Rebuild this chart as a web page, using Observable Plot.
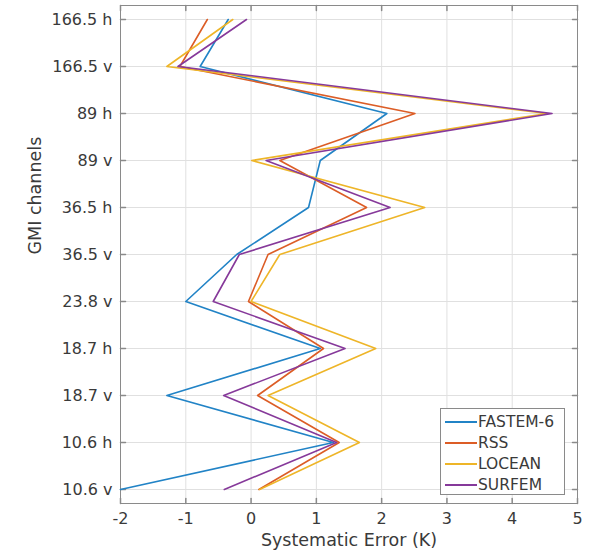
<!DOCTYPE html>
<html>
<head>
<meta charset="utf-8">
<script src="https://cdn.jsdelivr.net/npm/d3@7"></script>
<script src="https://cdn.jsdelivr.net/npm/@observablehq/plot@0.6"></script>
<style>
  html, body { margin: 0; padding: 0; background: #fff; }
  #wrap { position: relative; width: 592px; height: 558px; font-family: "DejaVu Sans", sans-serif; }
  #legend { position: absolute; left: 440px; top: 408px; width: 125px; height: 87px; border: 1px solid #8a8a8a; background: #fff; box-sizing: border-box; padding: 2px 0 0 4px; }
  .item { display: flex; align-items: center; height: 21px; font-size: 15.5px; color: #3a3a3a; }
  .sw { width: 32px; height: 0; border-top: 2px solid; margin-right: 1px; }
</style>
</head>
<body>
<div id="wrap"></div>
<script>
// Channels, bottom to top
const channels = ["10.6 v", "10.6 h", "18.7 v", "18.7 h", "23.8 v", "36.5 v", "36.5 h", "89 v", "89 h", "166.5 v", "166.5 h"];
const seriesNames = ["FASTEM-6", "RSS", "LOCEAN", "SURFEM"];
const seriesColors = ["#2183c6", "#dc5d26", "#eeb528", "#86399a"];
// Systematic error (K) per channel, same order as channels
const fastem6 = [-2.0, 1.26, -1.29, 1.06, -1.0, -0.22, 0.88, 1.06, 2.08, -0.78, -0.35];
const rss     = [0.12, 1.35, 0.10, 1.11, -0.04, 0.26, 1.77, 0.44, 2.51, -1.09, -0.67];
const locean  = [0.13, 1.66, 0.26, 1.91, 0.0, 0.44, 2.66, 0.01, 4.53, -1.29, -0.28];
const surfem  = [-0.41, 1.31, -0.42, 1.44, -0.58, -0.18, 2.13, 0.23, 4.61, -1.12, -0.07];
const xTicks = [-2, -1, 0, 1, 2, 3, 4, 5];

const allSeries = [fastem6, rss, locean, surfem];
const rows = [];
allSeries.forEach((vals, s) => vals.forEach((v, i) => rows.push({series: seriesNames[s], channel: channels[i], value: v})));

const tickShape = { draw(ctx, l) { ctx.moveTo(0, 0); ctx.lineTo(0, -l); } };
const textColor = "#3a3a3a";

const chart = Plot.plot({
  width: 592,
  height: 558,
  marginLeft: 120,
  marginRight: 15,
  marginTop: 5,
  marginBottom: 55,
  style: { fontFamily: "DejaVu Sans, sans-serif", color: textColor, background: "#fff" },
  x: { domain: [-2, 5] },
  y: { type: "point", domain: channels.slice().reverse(), padding: 0.27 },
  color: { domain: seriesNames, range: seriesColors },
  marks: [
    Plot.gridX(xTicks, { stroke: "#e0e0e0", strokeOpacity: 1 }),
    Plot.gridY(channels, { stroke: "#e0e0e0", strokeOpacity: 1 }),
    Plot.frame({ stroke: "#8a8a8a" }),
    // inward ticks
    Plot.vector(channels, { y: d => d, frameAnchor: "left", length: 5, rotate: 90, anchor: "start", shape: tickShape, stroke: "#8a8a8a" }),
    Plot.vector(channels, { y: d => d, frameAnchor: "right", length: 5, rotate: -90, anchor: "start", shape: tickShape, stroke: "#8a8a8a" }),
    Plot.vector(xTicks, { x: d => d, frameAnchor: "bottom", length: 5, rotate: 0, anchor: "start", shape: tickShape, stroke: "#8a8a8a" }),
    Plot.vector(xTicks, { x: d => d, frameAnchor: "top", length: 5, rotate: 180, anchor: "start", shape: tickShape, stroke: "#8a8a8a" }),
    Plot.ruleX([0], { y1: channels[channels.length - 1], y2: channels[0], stroke: "#404040", strokeWidth: 2.5 }),
    Plot.line(rows, { x: "value", y: "channel", z: "series", stroke: "series", strokeWidth: 1.6 }),
    Plot.axisX(xTicks, { tickSize: 0, tickPadding: 9, fontSize: 16, label: null, tickFormat: d => String(d) }),
    Plot.axisY(channels, { tickSize: 0, tickPadding: 8, fontSize: 16, label: null }),
    Plot.text(["Systematic Error (K)"], { frameAnchor: "bottom", dy: 42, fontSize: 17.5, fill: textColor }),
    Plot.text(["GMI channels"], { frameAnchor: "left", dx: -85, rotate: -90, fontSize: 17.5, fill: textColor })
  ]
});

const wrap = document.getElementById("wrap");
wrap.appendChild(chart);
const legend = document.createElement("div");
legend.id = "legend";
seriesNames.forEach((name, i) => {
  const item = document.createElement("div");
  item.className = "item";
  const sw = document.createElement("span");
  sw.className = "sw";
  sw.style.borderTopColor = seriesColors[i];
  const t = document.createElement("span");
  t.textContent = name;
  item.appendChild(sw);
  item.appendChild(t);
  legend.appendChild(item);
});
wrap.appendChild(legend);
</script>
</body>
</html>
